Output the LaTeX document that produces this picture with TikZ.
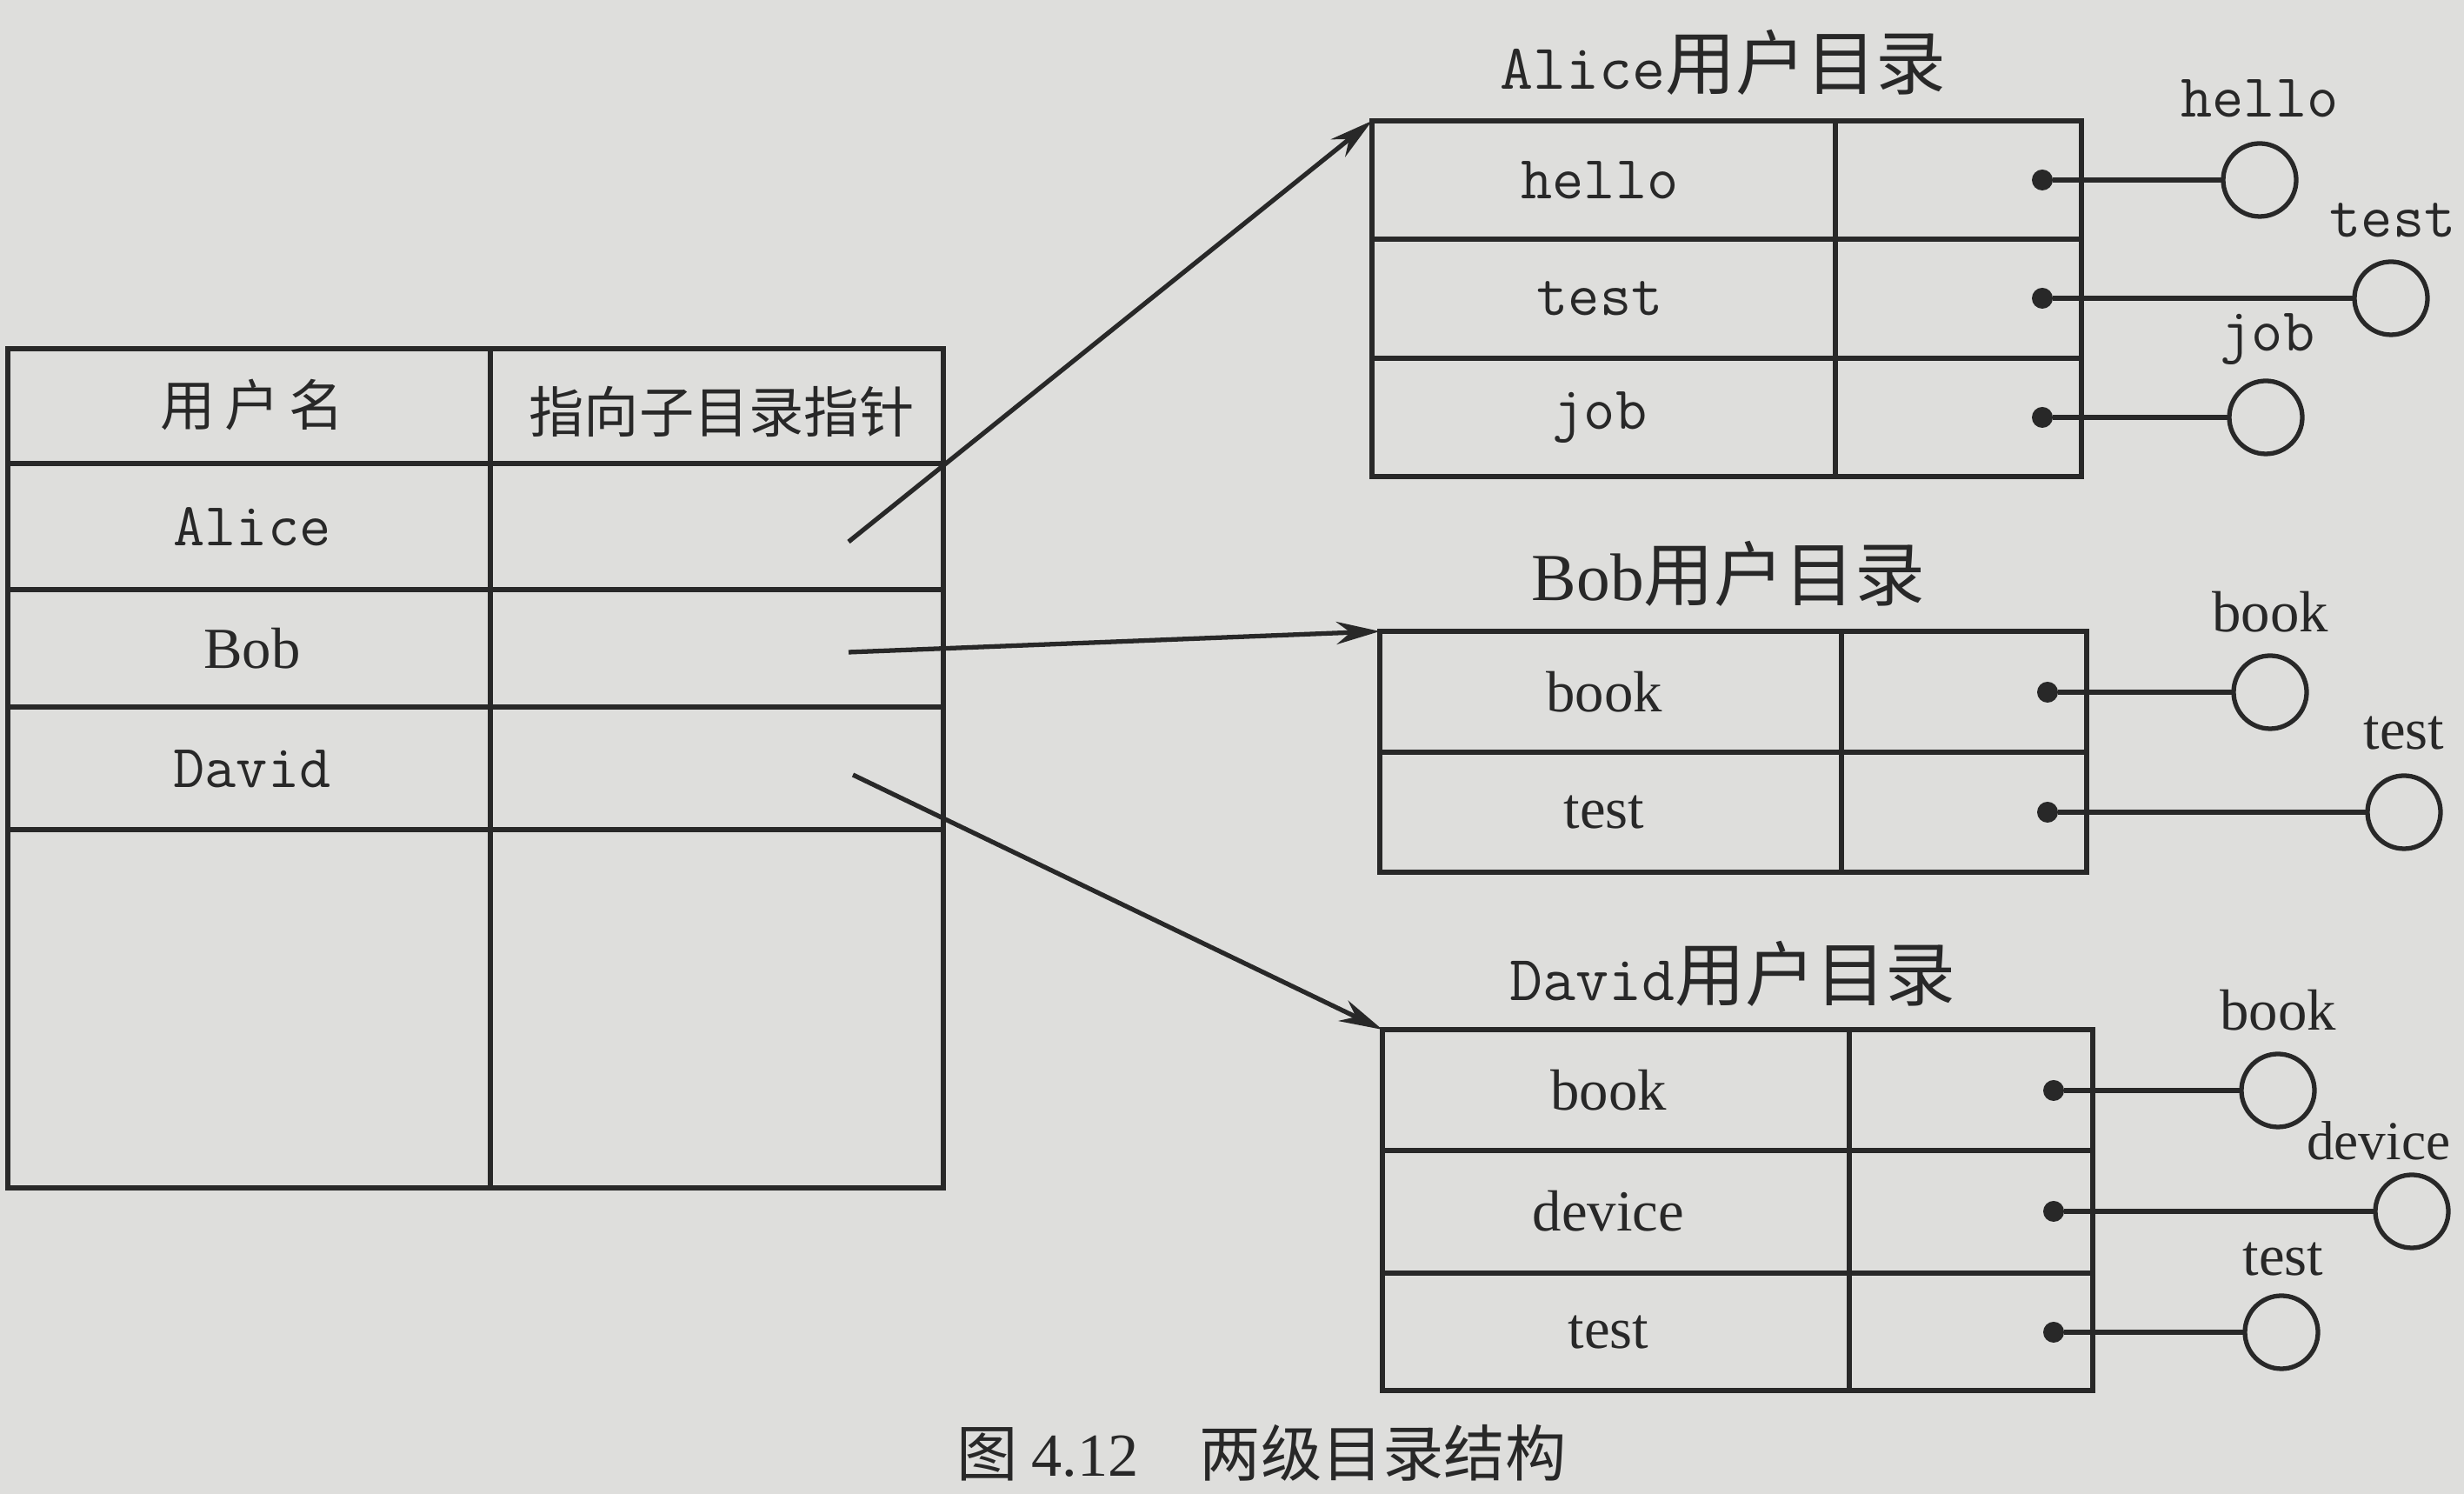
\documentclass[tikz,border=0pt]{standalone}
\usepackage{fontspec}
\setmainfont{Liberation Serif}
\newfontfamily\cjk{Noto Sans CJK SC}
\usetikzlibrary{arrows.meta}
\definecolor{paper}{RGB}{222,222,220}
\definecolor{ink}{RGB}{40,40,40}

\begin{document}
\begin{tikzpicture}[color=ink, line width=1.5pt,
  every node/.style={outer sep=0pt},
  cell/.style={font=\ttfamily\fontsize{20}{24}\selectfont},
  rcell/.style={font=\rmfamily\fontsize{19}{24}\selectfont},
  head/.style={font=\cjk\fontsize{18}{22}\selectfont},
  title/.style={font=\cjk\fontsize{23}{26}\selectfont},
  dirbox/.style={draw, anchor=north west, inner sep=0pt},
  fcircle/.style={circle, draw, minimum size=0.84cm, inner sep=0pt},
  dot/.style={circle, fill, minimum size=0.24cm, inner sep=0pt},
  ptr/.style={-{Stealth[length=5mm,width=2.6mm]}}]
\fill[paper] (0,0) rectangle (28.34,17.18);
\useasboundingbox (0,0) rectangle (28.34,17.18);

% user table
\node[dirbox, minimum width=10.76cm, minimum height=9.65cm] (mfd) at (0.09,13.17) {};
\draw (5.64,13.17) -- (5.64,3.52);
\draw (0.09,11.85) -- (10.85,11.85);
\draw (0.09,10.40) -- (10.85,10.40);
\draw (0.09,9.05) -- (10.85,9.05);
\draw (0.09,7.64) -- (10.85,7.64);
\node[head] (hname) at (2.9,12.52) {用\,户\,名};
\node[head] (hptr) at (8.3,12.45) {指向子目录指针};
\node[cell] (alice) at (2.9,11.12) {Alice};
\node[rcell] (bob) at (2.9,9.72) {Bob};
\node[cell] (david) at (2.9,8.34) {David};
\coordinate (palice) at (9.76,10.95);
\coordinate (pbob) at (9.76,9.68);
\coordinate (pdavid) at (9.81,8.27);

% Alice
\node[title] (talice) at (19.82,16.46) {{\ttfamily\fontsize{21}{24}\selectfont Alice}用户目录};
\node[dirbox, minimum width=8.16cm, minimum height=4.09cm] (aufd) at (15.78,15.79) {};
\draw (21.11,15.79) -- (21.11,11.70);
\draw (15.78,14.43) -- (23.94,14.43);
\draw (15.78,13.06) -- (23.94,13.06);
\node[cell] (a1) at (18.4,15.11) {hello};
\node[cell] (a2) at (18.4,13.75) {test};
\node[cell] (a3) at (18.4,12.38) {job};
\node[dot] (ad1) at (23.49,15.11) {};
\node[dot] (ad2) at (23.49,13.75) {};
\node[dot] (ad3) at (23.49,12.38) {};
\node[fcircle] (af1) at (25.99,15.11) {};
\node[fcircle] (af2) at (27.50,13.75) {};
\node[fcircle] (af3) at (26.06,12.38) {};
\node[cell] (al1) at (25.99,16.05) {hello};
\node[cell] (al2) at (27.52,14.65) {test};
\node[cell] (al3) at (26.08,13.28) {job};
\draw (ad1) -- (af1);
\draw (ad2) -- (af2);
\draw (ad3) -- (af3);

% Bob
\node[title] (tbob) at (19.88,10.58) {{\rmfamily\fontsize{22}{24}\selectfont Bob}用户目录};
\node[dirbox, minimum width=8.13cm, minimum height=2.77cm] (bufd) at (15.87,9.92) {};
\draw (21.18,9.92) -- (21.18,7.15);
\draw (15.87,8.53) -- (24.00,8.53);
\node[rcell] (b1) at (18.45,9.22) {book};
\node[rcell] (b2) at (18.45,7.84) {test};
\node[dot] (bd1) at (23.55,9.22) {};
\node[dot] (bd2) at (23.55,7.84) {};
\node[fcircle] (bf1) at (26.11,9.22) {};
\node[fcircle] (bf2) at (27.65,7.84) {};
\node[rcell] (bl1) at (26.11,10.14) {book};
\node[rcell] (bl2) at (27.65,8.75) {test};
\draw (bd1) -- (bf1);
\draw (bd2) -- (bf2);

% David
\node[title] (tdavid) at (19.93,5.98) {{\ttfamily\fontsize{21}{24}\selectfont David}用户目录};
\node[dirbox, minimum width=8.17cm, minimum height=4.15cm] (dufd) at (15.90,5.34) {};
\draw (21.27,5.34) -- (21.27,1.19);
\draw (15.90,3.95) -- (24.07,3.95);
\draw (15.90,2.54) -- (24.07,2.54);
\node[rcell] (d1) at (18.5,4.64) {book};
\node[rcell] (d2) at (18.5,3.25) {device};
\node[rcell] (d3) at (18.5,1.86) {test};
\node[dot] (dd1) at (23.62,4.64) {};
\node[dot] (dd2) at (23.62,3.25) {};
\node[dot] (dd3) at (23.62,1.86) {};
\node[fcircle] (df1) at (26.20,4.64) {};
\node[fcircle] (df2) at (27.74,3.25) {};
\node[fcircle] (df3) at (26.24,1.86) {};
\node[rcell] (dl1) at (26.20,5.56) {book};
\node[rcell, anchor=east, font=\rmfamily\fontsize{18}{22}\selectfont] (dl2) at (28.30,4.06) {device};
\node[rcell] (dl3) at (26.26,2.70) {test};
\draw (dd1) -- (df1);
\draw (dd2) -- (df2);
\draw (dd3) -- (df3);

% pointers
\draw[ptr] (palice) -- (aufd.north west);
\draw[ptr] (pbob) -- (bufd.north west);
\draw[ptr] (pdavid) -- (dufd.north west);

\node[font=\cjk\fontsize{20}{24}\selectfont] (cap) at (14.51,0.47) {图 {\rmfamily 4.12}\quad 两级目录结构};
\end{tikzpicture}
\end{document}
